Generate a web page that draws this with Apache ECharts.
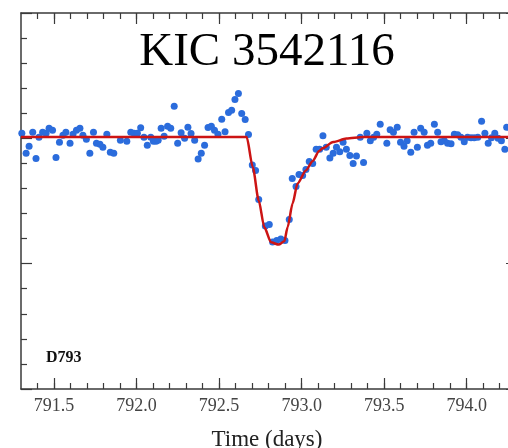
<!DOCTYPE html>
<html>
<head>
<meta charset="utf-8">
<script src="https://cdn.jsdelivr.net/npm/echarts@6/dist/echarts.min.js"></script>
<style>html,body{margin:0;padding:0;background:#fff}#c{width:508px;height:448px}</style>
</head>
<body>
<div id="c"></div>
<script>
// Observed light curve: time (days) and relative flux deviation (parts per thousand)
var times = [791.305, 791.331, 791.349, 791.371, 791.391, 791.409, 791.431, 791.452, 791.470, 791.491,
  791.512, 791.533, 791.554, 791.572, 791.597, 791.615, 791.636, 791.657, 791.675, 791.696,
  791.717, 791.739, 791.757, 791.778, 791.796, 791.820, 791.841, 791.862, 791.902, 791.941,
  791.965, 791.985, 792.005, 792.025, 792.045, 792.065, 792.086, 792.102, 792.118, 792.131,
  792.149, 792.167, 792.188, 792.207, 792.228, 792.249, 792.270, 792.291, 792.311, 792.330,
  792.352, 792.373, 792.392, 792.412, 792.433, 792.453, 792.472, 792.493, 792.516, 792.536,
  792.557, 792.576, 792.596, 792.617, 792.637, 792.658, 792.678, 792.701, 792.721, 792.740,
  792.780, 792.804, 792.824, 792.849, 792.874, 792.899, 792.925, 792.943, 792.966, 792.984,
  793.006, 793.026, 793.046, 793.067, 793.088, 793.109, 793.129, 793.149, 793.171, 793.191,
  793.211, 793.231, 793.251, 793.271, 793.292, 793.312, 793.332, 793.355, 793.375, 793.395,
  793.416, 793.436, 793.455, 793.476, 793.516, 793.536, 793.556, 793.579, 793.599, 793.620,
  793.639, 793.661, 793.681, 793.701, 793.721, 793.742, 793.762, 793.782, 793.804, 793.824,
  793.844, 793.864, 793.884, 793.905, 793.925, 793.945, 793.965, 793.985, 794.005, 794.026,
  794.045, 794.067, 794.090, 794.110, 794.130, 794.150, 794.170, 794.190, 794.210, 794.231,
  794.242];
var flux = [0.20, -0.60, -0.32, 0.24, -0.80, 0.04, 0.24, 0.20, 0.40, 0.32,
  -0.76, -0.16, 0.12, 0.24, -0.20, 0.16, 0.32, 0.40, 0.12, -0.04,
  -0.60, 0.24, -0.20, -0.24, -0.36, 0.16, -0.56, -0.60, -0.08, -0.12,
  0.24, 0.20, 0.20, 0.42, 0.04, -0.28, 0.04, -0.12, -0.12, -0.08,
  0.40, 0.08, 0.48, 0.40, 1.28, -0.20, 0.22, 0.00, 0.44, 0.19,
  -0.08, -0.82, -0.60, -0.28, 0.43, 0.48, 0.32, 0.16, 0.76, 0.26,
  1.03, 1.12, 1.55, 1.79, 0.99, 0.75, 0.15, -1.06, -1.28, -2.44,
  -3.50, -3.44, -4.14, -4.08, -4.02, -4.08, -3.24, -1.60, -1.92, -1.44,
  -1.48, -1.24, -0.92, -1.00, -0.44, -0.44, 0.10, -0.36, -0.78, -0.60,
  -0.36, -0.54, -0.16, -0.44, -0.68, -1.00, -0.70, 0.04, -0.96, 0.20,
  -0.10, 0.04, 0.16, 0.56, -0.20, 0.34, 0.24, 0.44, -0.16, -0.32,
  -0.10, -0.56, 0.24, -0.36, 0.40, 0.24, -0.28, -0.20, 0.56, 0.24,
  -0.14, -0.10, -0.20, -0.22, 0.16, 0.14, 0.04, -0.14, 0.04, 0.02,
  0.02, 0.04, 0.68, 0.20, -0.20, 0.02, 0.20, 0.00, -0.10, -0.44,
  0.44];
// Model fit (red curve)
var modelTimes = [791.3, 792.667, 792.704, 792.740, 792.774, 792.815, 792.861, 792.895, 792.915, 792.945,
  792.975, 793.026, 793.066, 793.106, 793.126, 793.191, 793.271, 793.372, 794.25];
var modelFlux = [0.05, 0.05, -1.15, -2.48, -3.55, -4.15, -4.24, -4.11, -3.55, -2.60,
  -1.80, -1.28, -0.91, -0.51, -0.40, -0.15, -0.01, 0.05, 0.05];
// Axis ticks
var xMajorTicks = [791.5, 792.0, 792.5, 793.0, 793.5, 794.0];
var xMinorTicks = [791.4, 791.5, 791.6, 791.7, 791.8, 791.9, 792.0, 792.1, 792.2, 792.3, 792.4,
  792.5, 792.6, 792.7, 792.8, 792.9, 793.0, 793.1, 793.2, 793.3, 793.4, 793.5, 793.6, 793.7,
  793.8, 793.9, 794.0, 794.1, 794.2];
var titleText = 'KIC 3542116';
var panelLabel = 'D793';
var xName = 'Time (days)';

var XMIN = 791.3, XMAX = 794.25;
var serif = 'Liberation Serif, Times New Roman, serif';
var axisColor = '#3a3a3a';

function xAx(pos, ticks, len, showLine, labels) {
  return {
    type: 'value', position: pos, min: XMIN, max: XMAX,
    axisLine: {show: showLine, onZero: false, lineStyle: {color: axisColor, width: 1.5}},
    axisTick: {show: true, inside: true, length: len, customValues: ticks, lineStyle: {color: axisColor, width: 1.2}},
    axisLabel: labels ? {show: true, customValues: ticks, formatter: function (v) { return v.toFixed(1); },
      color: '#444', fontFamily: serif, fontSize: 18, margin: 8} : {show: false},
    splitLine: {show: false}
  };
}
function yAx(pos, offset) {
  return {
    type: 'value', position: pos, offset: offset, min: -10, max: 5, interval: 5,
    axisLine: {show: true, onZero: false, lineStyle: {color: axisColor, width: 1.5}},
    axisTick: {show: true, inside: true, length: 11, lineStyle: {color: axisColor, width: 1.2}},
    minorTick: {show: true, splitNumber: 5, length: 6, lineStyle: {color: axisColor, width: 1.2}},
    axisLabel: {show: false},
    splitLine: {show: false}, minorSplitLine: {show: false}
  };
}

var pts = times.map(function (t, i) { return [t, flux[i]]; });
var model = modelTimes.map(function (t, i) { return [t, modelFlux[i]]; });

var chart = echarts.init(document.getElementById('c'), null, {renderer: 'canvas'});
chart.setOption({
  animation: false,
  backgroundColor: '#fff',
  grid: {left: 21, right: -1, top: 13, bottom: 59, containLabel: false},
  xAxis: [
    xAx('bottom', xMajorTicks, 11, true, true),
    xAx('bottom', xMinorTicks, 6, false, false),
    xAx('top', xMajorTicks, 11, true, false),
    xAx('top', xMinorTicks, 6, false, false)
  ],
  yAxis: [yAx('left', 0), yAx('right', 9)],
  series: [
    {type: 'scatter', data: pts, symbol: 'circle', symbolSize: 7,
      itemStyle: {color: '#2b6cdc', opacity: 1}, z: 2},
    {type: 'line', data: model, showSymbol: false, smooth: 0.25, smoothMonotone: 'x',
      lineStyle: {color: '#cc1414', width: 2.5}, z: 3}
  ],
  graphic: [
    {type: 'text', x: 267, y: 53, style: {text: titleText, fontFamily: serif, fontSize: 47,
      fill: '#000', textAlign: 'center', textVerticalAlign: 'middle'}},
    {type: 'text', x: 46, y: 358, style: {text: panelLabel, fontFamily: serif, fontSize: 16,
      fontWeight: 'bold', fill: '#111', textAlign: 'left', textVerticalAlign: 'middle'}},
    {type: 'text', x: 267, y: 440, style: {text: xName, fontFamily: serif, fontSize: 23,
      fill: '#222', textAlign: 'center', textVerticalAlign: 'middle'}}
  ]
});
</script>
</body>
</html>
